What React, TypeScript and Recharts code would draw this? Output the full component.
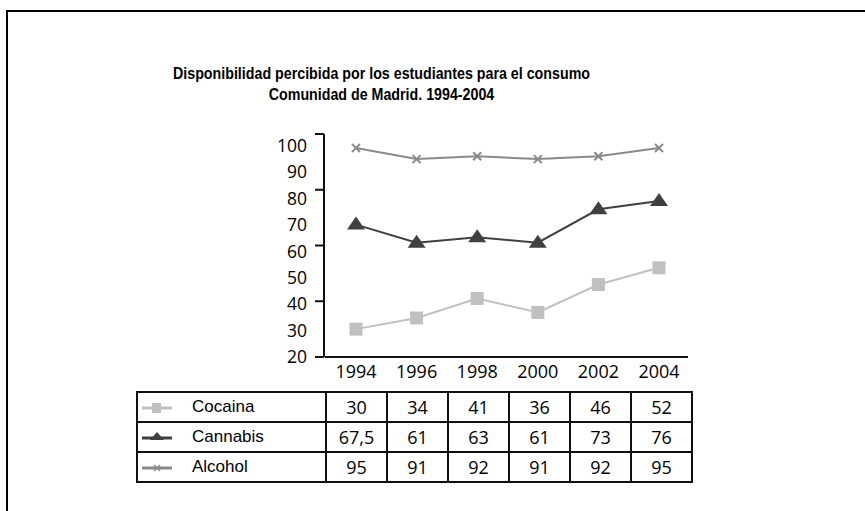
import React from "react";
import { LineChart, Line, XAxis, YAxis } from "recharts";

// survey years and perceived availability (%) per substance
const years = ["1994", "1996", "1998", "2000", "2002", "2004"];
const cocaina = [30, 34, 41, 36, 46, 52];
const cannabis = [67.5, 61, 63, 61, 73, 76];
const alcohol = [95, 91, 92, 91, 92, 95];
const cannabisText = ["67,5", "61", "63", "61", "73", "76"];

const markTicks = [20, 40, 60, 80, 100];
const labelTicks = [20, 30, 40, 50, 60, 70, 80, 90, 100];

const COL_COCA = "#c0c0c0";
const COL_CANN = "#404040";
const COL_ALC = "#8a8a8a";

const data = years.map((y, i) => ({
  year: y,
  cocaina: cocaina[i],
  cannabis: cannabis[i],
  alcohol: alcohol[i],
}));

const SquareDot = (p: any) => (
  <rect key={p.index} x={p.cx - 6.5} y={p.cy - 6.5} width={13} height={13} fill={COL_COCA} />
);

const TriangleDot = (p: any) => (
  <path
    key={p.index}
    d={`M${p.cx - 9},${p.cy + 5} L${p.cx},${p.cy - 8} L${p.cx + 9},${p.cy + 5} Z`}
    fill={COL_CANN}
  />
);

const CrossDot = (p: any) => (
  <g key={p.index} stroke={COL_ALC} strokeWidth={2}>
    <line x1={p.cx - 4} y1={p.cy - 4} x2={p.cx + 4} y2={p.cy + 4} />
    <line x1={p.cx - 4} y1={p.cy + 4} x2={p.cx + 4} y2={p.cy - 4} />
  </g>
);

function LegendIcon({ kind }: { kind: string }) {
  const color = kind === "coca" ? COL_COCA : kind === "cann" ? COL_CANN : COL_ALC;
  return (
    <svg width={30} height={14} style={{ display: "block" }}>
      <line x1={0} y1={8} x2={30} y2={8} stroke={color} strokeWidth={3} />
      {kind === "coca" && <rect x={10} y={3} width={9} height={10} fill={color} />}
      {kind === "cann" && <path d="M8,10 L15,2 L22,10 Z" fill={color} />}
      {kind === "alc" && (
        <g stroke={color} strokeWidth={1.5}>
          <line x1={12} y1={5} x2={18} y2={11} />
          <line x1={12} y1={11} x2={18} y2={5} />
        </g>
      )}
    </svg>
  );
}

const numFont = "'Open Sans', 'DejaVu Sans', sans-serif";
const txtFont = "'Liberation Sans', Arial, sans-serif";

const cell: React.CSSProperties = {
  border: "2px solid #111",
  textAlign: "center",
  fontFamily: numFont,
  fontSize: 18,
  color: "#000",
  padding: 0,
  height: 28,
};

const rows = [
  { kind: "coca", name: "Cocaina", vals: cocaina.map(String) },
  { kind: "cann", name: "Cannabis", vals: cannabisText },
  { kind: "alc", name: "Alcohol", vals: alcohol.map(String) },
];

export default function App() {
  return (
    <div style={{ position: "absolute", left: 0, top: 0, width: 865, height: 511, background: "#fff", overflow: "hidden" }}>
      <div
        style={{
          position: "absolute",
          left: 6,
          top: 10,
          width: 859,
          height: 501,
          borderTop: "2px solid #000",
          borderLeft: "2px solid #000",
          boxSizing: "border-box",
        }}
      />
      <div
        style={{
          position: "absolute",
          left: 0,
          top: 63,
          width: 763,
          textAlign: "center",
          fontFamily: txtFont,
          fontWeight: "bold",
          fontSize: 16,
          lineHeight: "21px",
          color: "#000",
          transform: "scaleX(0.89)",
          transformOrigin: "381.5px 0",
          whiteSpace: "nowrap",
        }}
      >
        <div>Disponibilidad percibida por los estudiantes para el consumo</div>
        <div>Comunidad de Madrid. 1994-2004</div>
      </div>

      <div style={{ position: "absolute", left: 0, top: 0 }}>
        <LineChart width={865} height={511} data={data} margin={{ top: 134, right: 177, bottom: 124, left: 323 }}>
          <XAxis
            dataKey="year"
            height={30}
            padding={{ left: 31, right: 29 }}
            axisLine={{ stroke: "#111", strokeWidth: 2 }}
            tickLine={false}
            tickSize={6}
            tickMargin={2}
            tick={{ fontFamily: numFont, fontSize: 18, fill: "#000" }}
          />
          <YAxis
            yAxisId="marks"
            width={1}
            type="number"
            domain={[20, 100]}
            ticks={markTicks}
            tickSize={9}
            axisLine={{ stroke: "#111", strokeWidth: 2 }}
            tickLine={{ stroke: "#111", strokeWidth: 2 }}
            tick={() => <g />}
          />
          <YAxis
            yAxisId="labels"
            width={1}
            type="number"
            domain={[20, 104.4]}
            ticks={labelTicks}
            allowDataOverflow
            axisLine={false}
            tickLine={false}
            tickSize={6}
            tickMargin={12}
            tick={{ fontFamily: numFont, fontSize: 17.5, fill: "#000" }}
          />
          <Line yAxisId="marks" dataKey="alcohol" stroke={COL_ALC} strokeWidth={2} dot={CrossDot} isAnimationActive={false} />
          <Line yAxisId="marks" dataKey="cannabis" stroke={COL_CANN} strokeWidth={2} dot={TriangleDot} isAnimationActive={false} />
          <Line yAxisId="marks" dataKey="cocaina" stroke={COL_COCA} strokeWidth={2} dot={SquareDot} isAnimationActive={false} />
        </LineChart>
      </div>

      <table
        style={{
          position: "absolute",
          left: 136,
          top: 391,
          width: 555,
          borderCollapse: "collapse",
          tableLayout: "fixed",
        }}
      >
        <colgroup>
          <col style={{ width: 189 }} />
          {years.map((y) => (
            <col key={y} style={{ width: 61 }} />
          ))}
        </colgroup>
        <tbody>
          {rows.map((r) => (
            <tr key={r.name}>
              <td style={{ ...cell, textAlign: "left", fontFamily: txtFont, fontSize: 17 }}>
                <div style={{ display: "flex", alignItems: "center" }}>
                  <div style={{ marginLeft: 4, width: 30 }}>
                    <LegendIcon kind={r.kind} />
                  </div>
                  <span style={{ marginLeft: 20 }}>{r.name}</span>
                </div>
              </td>
              {r.vals.map((v, i) => (
                <td key={i} style={cell}>
                  {v}
                </td>
              ))}
            </tr>
          ))}
        </tbody>
      </table>
    </div>
  );
}
